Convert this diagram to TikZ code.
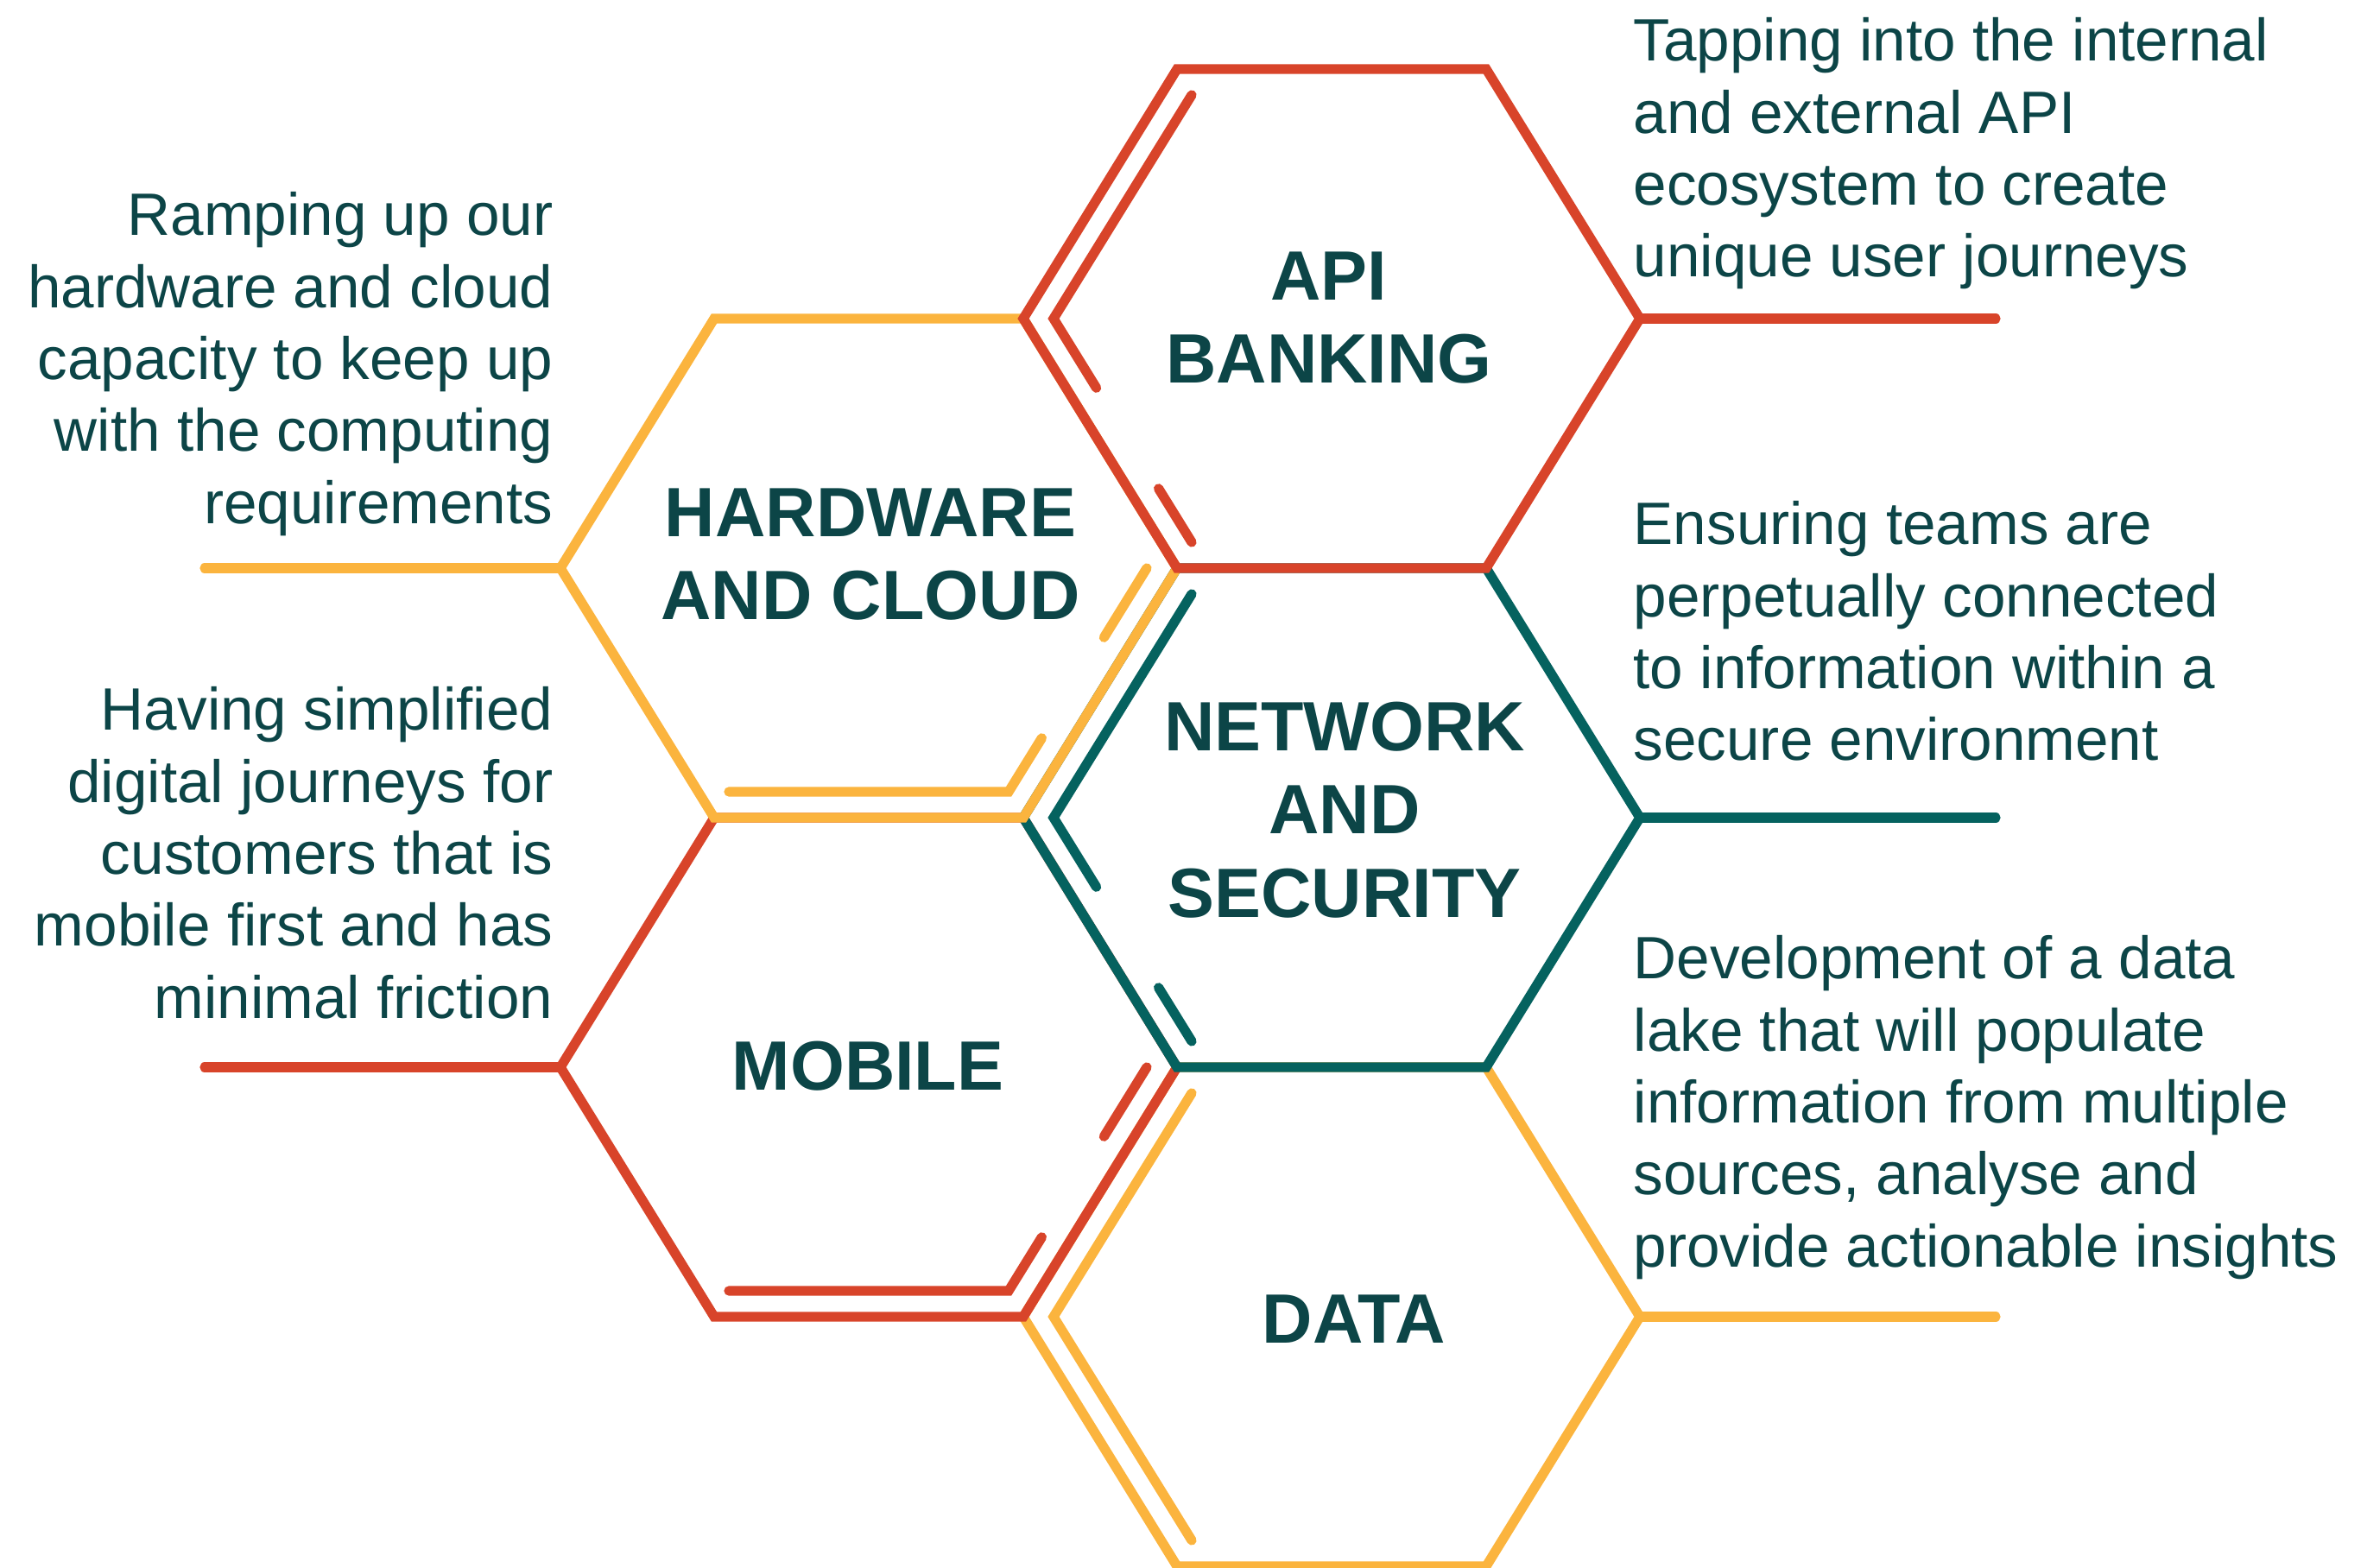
\documentclass[tikz,border=0pt]{standalone}
\usepackage{fontspec}
\setmainfont{Liberation Sans}
\usepackage{tikz}
\usetikzlibrary{calc,positioning}
\definecolor{hexred}{HTML}{D8442A}
\definecolor{hexyellow}{HTML}{FBB43E}
\definecolor{hexteal}{HTML}{05625F}
\definecolor{hextext}{HTML}{0C4547}
\tikzset{
  hexline/.style={line width=3.2pt, line join=miter, line cap=round},
  innerline/.style={line width=3.2pt, line join=miter, line cap=round},
  lead/.style={line width=3.2pt, line cap=round},
  hexlabel/.style={font=\bfseries\fontsize{23}{27.5}\selectfont, text=hextext,
                   align=center, inner sep=0pt},
  desc/.style={font=\fontsize{19.7}{23.7}\selectfont, text=hextext, inner sep=0pt},
}

\begin{document}
\begin{tikzpicture}
\useasboundingbox (0,0) rectangle (27.41,-18.16);

% corners of each cell, outer and inner
\foreach \n/\x/\y in {api/15.42/-3.69, hw/10.06/-6.58, net/15.42/-9.47, mob/10.06/-12.36, data/15.42/-15.25}{
  \coordinate (\n) at (\x,\y);
  \coordinate (\n-L) at ($(\n)+(-3.57,0)$);
  \coordinate (\n-TL) at ($(\n)+(-1.79,2.89)$);
  \coordinate (\n-TR) at ($(\n)+(1.79,2.89)$);
  \coordinate (\n-R) at ($(\n)+(3.57,0)$);
  \coordinate (\n-BR) at ($(\n)+(1.79,-2.89)$);
  \coordinate (\n-BL) at ($(\n)+(-1.79,-2.89)$);
  \coordinate (\n-iL) at ($(\n)+(-3.22,0)$);
  \coordinate (\n-iTL) at ($(\n)+(-1.62,2.59)$);
  \coordinate (\n-iR) at ($(\n)+(3.22,0)$);
  \coordinate (\n-iBR) at ($(\n)+(1.62,-2.59)$);
  \coordinate (\n-iBL) at ($(\n)+(-1.62,-2.59)$);
}
\coordinate (api-end) at ($(api-R)+(4.12,0)$);
\coordinate (net-end) at ($(net-R)+(4.12,0)$);
\coordinate (data-end) at ($(data-R)+(4.12,0)$);
\coordinate (hw-end) at ($(hw-L)+(-4.12,0)$);
\coordinate (mob-end) at ($(mob-L)+(-4.12,0)$);

% data
\draw[hexline, hexyellow] (data-L) -- (data-TL) -- (data-TR) -- (data-R) -- (data-BR) -- (data-BL) -- cycle;
\draw[innerline, hexyellow] (data-iTL) -- (data-iL) -- (data-iBL);
\draw[lead, hexyellow] (data-R) -- (data-end);

% mobile
\draw[hexline, hexred] (mob-L) -- (mob-TL) -- (mob-TR) -- (mob-R) -- (mob-BR) -- (mob-BL) -- cycle;
\draw[innerline, hexred] (mob-iR) -- ($(mob-iR)!0.31!(mob-iBR)$);
\draw[innerline, hexred] ($(mob-iR)!0.76!(mob-iBR)$) -- (mob-iBR) -- (mob-iBL);
\draw[lead, hexred] (mob-L) -- (mob-end);

% network
\draw[hexline, hexteal] (net-L) -- (net-TL) -- (net-TR) -- (net-R) -- (net-BR) -- (net-BL) -- cycle;
\draw[innerline, hexteal] (net-iTL) -- (net-iL) -- ($(net-iL)!0.31!(net-iBL)$);
\draw[innerline, hexteal] ($(net-iL)!0.76!(net-iBL)$) -- (net-iBL);
\draw[lead, hexteal] (net-R) -- (net-end);

% hardware
\draw[hexline, hexyellow] (hw-L) -- (hw-TL) -- (hw-TR) -- (hw-R) -- (hw-BR) -- (hw-BL) -- cycle;
\draw[innerline, hexyellow] (hw-iR) -- ($(hw-iR)!0.31!(hw-iBR)$);
\draw[innerline, hexyellow] ($(hw-iR)!0.76!(hw-iBR)$) -- (hw-iBR) -- (hw-iBL);
\draw[lead, hexyellow] (hw-L) -- (hw-end);

% api
\draw[hexline, hexred] (api-L) -- (api-TL) -- (api-TR) -- (api-R) -- (api-BR) -- (api-BL) -- cycle;
\draw[innerline, hexred] (api-iTL) -- (api-iL) -- ($(api-iL)!0.31!(api-iBL)$);
\draw[innerline, hexred] ($(api-iL)!0.76!(api-iBL)$) -- (api-iBL);
\draw[lead, hexred] (api-R) -- (api-end);

% cell titles
\node[hexlabel] (api-label) at ($(api)+(-0.03,0.01)$) {API\\BANKING};
\node[hexlabel] (hw-label) at ($(hw)+(0.02,0.16)$) {HARDWARE\\AND CLOUD};
\node[hexlabel] (net-label) at ($(net)+(0.15,0.09)$) {NETWORK\\AND\\SECURITY};
\node[hexlabel] (mob-label) at ($(mob)+(-0.01,0.01)$) {MOBILE};
\node[hexlabel] (data-label) at ($(data)+(0.26,-0.03)$) {DATA};

% descriptions
\node[desc, anchor=north east, align=right] (hw-text) at (6.41,-2.22)
  {Ramping up our\\hardware and cloud\\capacity to keep up\\with the computing\\requirements};
\node[desc, anchor=north east, align=right] (mob-text) at (6.41,-7.95)
  {Having simplified\\digital journeys for\\customers that is\\mobile first and has\\minimal friction};
\node[desc, anchor=north west, align=left] (api-text) at (18.91,-0.20)
  {Tapping into the internal\\and external API\\ecosystem to create\\unique user journeys};
\node[desc, anchor=north west, align=left] (net-text) at (18.91,-5.80)
  {Ensuring teams are\\perpetually connected\\to information within a\\secure environment};
\node[desc, anchor=north west, align=left] (data-text) at (18.91,-10.83)
  {Development of a data\\lake that will populate\\information from multiple\\sources, analyse and\\provide actionable insights};
\end{tikzpicture}
\end{document}
